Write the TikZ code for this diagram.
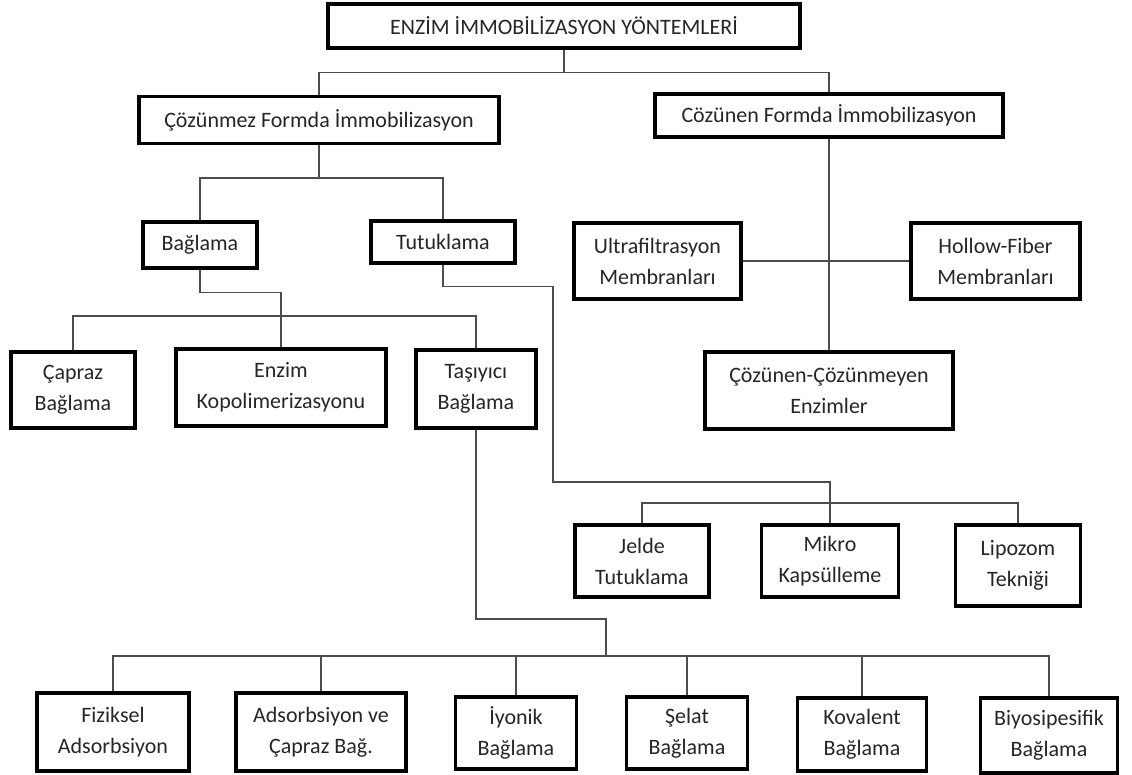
\documentclass[tikz,border=0pt]{standalone}
\usepackage{fontspec}
\setmainfont{Carlito}
\begin{document}
\begin{tikzpicture}[x=1pt,y=-1pt,
  box/.style={draw=black, line width=3.2pt, fill=white, inner sep=0pt, align=center,
    font=\fontsize{22}{31}\selectfont, text=black!85},
  conn/.style={line width=1.4pt, draw=black!70}]
\useasboundingbox[fill=white] (0,0) rectangle (1132,775);

% nodes
\node[box, minimum width=472pt, minimum height=44pt] (top) at (564,26) {ENZİM İMMOBİLİZASYON YÖNTEMLERİ};
\node[box, minimum width=360pt, minimum height=47pt] (L1a) at (319,120) {Çözünmez Formda İmmobilizasyon};
\node[box, minimum width=348pt, minimum height=43pt] (L1b) at (829,115.5) {Cözünen Formda İmmobilizasyon};

\node[box, minimum width=114pt, minimum height=46pt] (Bag) at (200,245) {Bağlama};
\node[box, minimum width=144pt, minimum height=42pt] (Tut) at (443,242) {Tutuklama};

\node[box, minimum width=167pt, minimum height=76pt] (Ult) at (657.5,261) {Ultrafiltrasyon\\Membranları};
\node[box, minimum width=169pt, minimum height=76pt] (Hol) at (995.5,261) {Hollow-Fiber\\Membranları};
\node[box, minimum width=248pt, minimum height=77pt] (CC) at (829,390.5) {Çözünen-Çözünmeyen\\Enzimler};

\node[box, minimum width=124pt, minimum height=76pt] (Cap) at (73,390) {Çapraz\\Bağlama};
\node[box, minimum width=210pt, minimum height=77pt] (Enz) at (281,387.5) {Enzim\\Kopolimerizasyonu};
\node[box, minimum width=120pt, minimum height=78pt] (Tas) at (476,389) {Taşıyıcı\\Bağlama};

\node[box, minimum width=134pt, minimum height=72pt] (Jel) at (642,561) {Jelde\\Tutuklama};
\node[box, minimum width=137pt, minimum height=72pt] (Mik) at (830,561) {Mikro\\Kapsülleme};
\node[box, minimum width=125pt, minimum height=81pt] (Lip) at (1018,565.5) {Lipozom\\Tekniği};

\node[box, minimum width=152pt, minimum height=78pt] (Fiz) at (113,732) {Fiziksel\\Adsorbsiyon};
\node[box, minimum width=170pt, minimum height=78pt] (Ads) at (321,732) {Adsorbsiyon ve\\Çapraz Bağ.};
\node[box, minimum width=121pt, minimum height=72pt] (Iyo) at (516,733) {İyonik\\Bağlama};
\node[box, minimum width=121pt, minimum height=72pt] (Sel) at (687,733) {Şelat\\Bağlama};
\node[box, minimum width=129pt, minimum height=73pt] (Kov) at (862,734.5) {Kovalent\\Bağlama};
\node[box, minimum width=137pt, minimum height=75pt] (Biy) at (1049,735.5) {Biyosipesifik\\Bağlama};

% bus coordinates
\coordinate (b2) at (281,316);
\coordinate (t1) at (553,482);
\coordinate (b3) at (830,503);
\coordinate (t2) at (606,619);

% connectors
\draw[conn] (top.south) -- ++(0,23) coordinate (b0);
\draw[conn] (L1a.north) |- (b0) -| (L1b.north);

\draw[conn] (L1a.south) -- ++(0,33) coordinate (b1);
\draw[conn] (Bag.north) |- (b1) -| (Tut.north);

\draw[conn] (L1b.south) -- (CC.north);
\draw[conn] (Ult.east) -- (Hol.west);

\draw[conn] (Bag.south) -- ++(0,23) -| (Enz.north);
\draw[conn] (Cap.north) |- (b2) -| (Tas.north);

\draw[conn] (Tut.south) -- ++(0,22) -| (t1) -| (Mik.north);
\draw[conn] (Jel.north) |- (b3) -| (Lip.north);

\draw[conn] (Tas.south) |- (t2) -- ++(0,37) coordinate (b4);
\draw[conn] (Fiz.north) |- (b4) -| (Biy.north);
\draw[conn] (Ads.north) -- (Ads.north |- b4);
\draw[conn] (Iyo.north) -- (Iyo.north |- b4);
\draw[conn] (Sel.north) -- (Sel.north |- b4);
\draw[conn] (Kov.north) -- (Kov.north |- b4);
\end{tikzpicture}
\end{document}
